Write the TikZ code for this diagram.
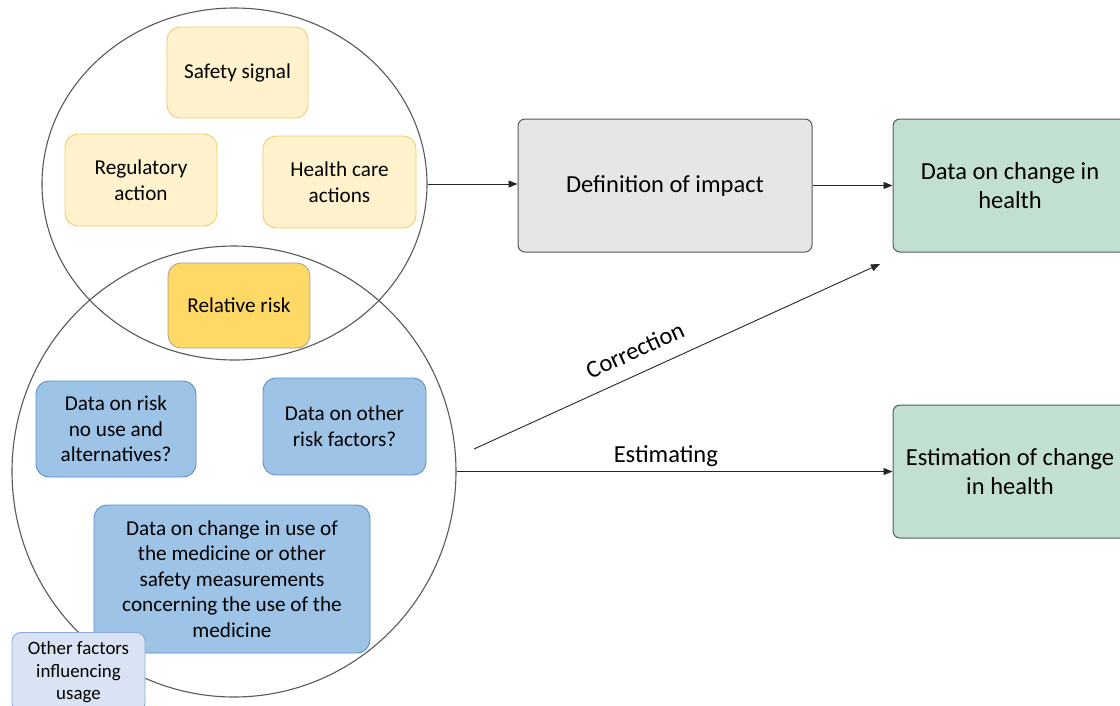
\documentclass[tikz,border=0pt]{standalone}
\usepackage{fontspec}
\setmainfont{Carlito}
\usetikzlibrary{shapes.geometric,arrows.meta}

\definecolor{circline}{HTML}{595959}
\definecolor{paleyellow}{HTML}{FFF2CC}
\definecolor{goldline}{HTML}{F0CF6A}
\definecolor{gold}{HTML}{FFD966}
\definecolor{midblue}{HTML}{9DC3E6}
\definecolor{blueline}{HTML}{5E8FC4}
\definecolor{paleblue}{HTML}{DAE3F3}
\definecolor{paleblueline}{HTML}{8FAADC}
\definecolor{lightgrey}{HTML}{E7E6E6}
\definecolor{mint}{HTML}{C2E0D0}

\tikzset{
  smalltext/.style={font=\fontsize{21.2}{25.6}\selectfont},
  bigtext/.style={font=\fontsize{24.5}{29}\selectfont},
  ring/.style={draw=circline, line width=1.1pt, ellipse, inner sep=0pt},
  yellowbox/.style={draw=goldline, fill=paleyellow, rounded corners=13pt, line width=0.9pt, align=center, smalltext},
  riskbox/.style={draw=circline!60, fill=gold, rounded corners=13pt, line width=0.7pt, align=center, smalltext},
  bluebox/.style={draw=blueline, fill=midblue, rounded corners=13pt, line width=0.9pt, align=center, smalltext},
  factorbox/.style={draw=paleblueline, fill=paleblue, rounded corners=9pt, line width=0.9pt, align=center, font=\fontsize{18.9}{22.5}\selectfont},
  greybox/.style={draw=circline, fill=lightgrey, rounded corners=7pt, line width=1pt, align=center, bigtext},
  greenbox/.style={draw=circline, fill=mint, rounded corners=7pt, line width=1pt, align=center, bigtext},
  flow/.style={-{Triangle[length=9pt,width=7pt]}, draw=black!85, line width=0.9pt}
}

\begin{document}
\begin{tikzpicture}[x=1pt, y=-1pt]
  \clip (0,0) rectangle (1120,705);
  \fill[white] (0,0) rectangle (1120,705);

  % The two overlapping circles
  \node[ring, minimum width=385, minimum height=352] (upper) at (234.5,184) {};
  \node[ring, minimum width=444, minimum height=451] (lower) at (234,471.5) {};

  % Boxes inside the upper circle
  \node[yellowbox, minimum width=141, minimum height=91] (safety) at (237.5,72.5) {Safety signal};
  \node[yellowbox, minimum width=152, minimum height=92] (regaction) at (141,180) {Regulatory\\action};
  \node[yellowbox, minimum width=153, minimum height=92] (hcaction) at (339.5,182) {Health care\\actions};

  % Box in the overlap
  \node[riskbox, minimum width=142, minimum height=85] (relrisk) at (239,305.5) {Relative risk};

  % Boxes inside the lower circle
  \node[bluebox, minimum width=160, minimum height=96] (riskdata) at (116,429) {Data on risk\\no use and\\alternatives?};
  \node[bluebox, minimum width=163, minimum height=97] (otherrisk) at (344.5,426.5) {Data on other\\risk factors?};
  \node[bluebox, minimum width=276, minimum height=148] (usechange) at (232,579) {Data on change in use of\\the medicine or other\\safety measurements\\concerning the use of the\\medicine};
  \node[factorbox, minimum width=133, minimum height=80, anchor=north] (otherfac) at (78.5,632) {Other factors\\influencing\\usage};

  % Boxes on the right
  \node[greybox, minimum width=294, minimum height=133] (impact) at (665,185.5) {Definition of impact};
  \node[greenbox, minimum width=234, minimum height=133] (health) at (1010,185.5) {Data on change in\\health};
  \node[greenbox, minimum width=234, minimum height=133] (estimation) at (1010,471.5) {Estimation of change\\in health};

  \coordinate (corrstart) at (474,449);
  \coordinate (corrend) at (880,264);

  % Edges
  \draw[flow] (upper.east) -- (upper.east -| impact.west);
  \draw[flow] (impact.east) -- (health.west);
  \draw[flow] (corrstart) -- node[pos=0.42, sloped, above=11pt, bigtext] (corrlabel) {Correction} (corrend);
  \draw[flow] (lower.east) -- node[pos=0.48, above=1pt, bigtext] (estlabel) {Estimating} (lower.east -| estimation.west);
\end{tikzpicture}
\end{document}
